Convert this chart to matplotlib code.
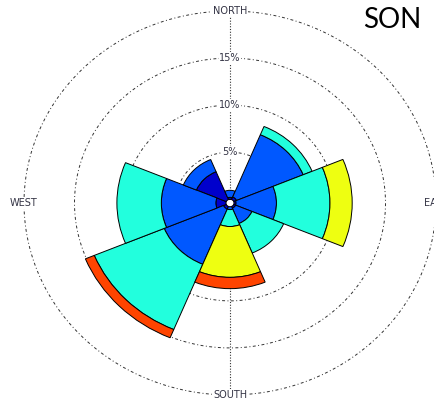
import matplotlib.pyplot as plt
import numpy as np

# direcoes (graus a partir do norte, sentido horario) e frequencias por classe de velocidade (%)
direcoes = [0, 45, 90, 135, 180, 225, 270, 315]
classe1 = [0.2, 0.3, 0.2, 0.2, 0.0, 0.3, 1.0, 3.2]
classe2 = [0.75, 7.15, 4.0, 1.75, 0.3, 6.35, 5.4, 1.4]
classe3 = [0.0, 0.95, 5.3, 3.4, 1.8, 7.5, 4.4, 0.0]
classe4 = [0.0, 0.0, 2.2, 0.0, 5.4, 0.0, 0.0, 0.0]
classe5 = [0.0, 0.0, 0.0, 0.0, 1.2, 0.95, 0.0, 0.0]
cores = ['#0000CC', '#0058FF', '#22FFDD', '#EEFF11', '#FF4400']

aneis = [5, 10, 15, 20]
rotulos_aneis = ['5%', '10%', '15%']
pontos = ['NORTH', 'EAST', 'SOUTH', 'WEST']

fig = plt.figure(figsize=(4.34, 4.0), dpi=100)
ax = fig.add_axes([24/434, 5/400, 412/434, 384/400], projection='polar')
ax.set_aspect('auto')
ax.set_theta_zero_location('N')
ax.set_theta_direction(-1)
ax.set_rorigin(-0.4)
ax.set_ylim(0, 20)

theta = np.deg2rad(direcoes)
largura = np.pi / 4
base = np.zeros(len(direcoes))
for valores, cor in zip([classe1, classe2, classe3, classe4, classe5], cores):
    v = np.array(valores)
    m = v > 0
    ax.bar(theta[m], v[m], width=largura, bottom=base[m], color=cor,
           edgecolor='black', linewidth=0.7, zorder=3)
    base = base + v

# grade: circulos tracejados e linha norte-sul
t = np.linspace(0, 2*np.pi, 400)
for r in aneis:
    ax.plot(t, np.full_like(t, r), color='#333333', lw=0.7,
            linestyle=(0, (3, 2.5, 1, 2.5)), zorder=1, clip_on=False)
ax.plot([0, 0], [0, 20], color='#333333', lw=0.8, linestyle=(0, (1, 1.5)), zorder=1)
ax.plot([np.pi, np.pi], [0, 20], color='#333333', lw=0.8, linestyle=(0, (1, 1.5)), zorder=1)

for r, rot in zip(aneis, rotulos_aneis):
    ax.text(0, r, rot, ha='center', va='center', fontsize=7, color='#333344',
            bbox=dict(facecolor='white', edgecolor='none', pad=0.5), zorder=2)
for ang, nome in zip([0, 90, 180, 270], pontos):
    ax.text(np.deg2rad(ang), 20, nome, ha='center', va='center', fontsize=7,
            color='#333344', bbox=dict(facecolor='white', edgecolor='none', pad=0.8),
            zorder=2, clip_on=False)

ax.grid(False)
ax.set_xticks([])
ax.set_yticks([])
ax.spines['polar'].set_visible(False)

fig.text(392/434, 1 - 20/400, 'SON', ha='center', va='center', fontsize=20,
         family='Lato', color='black')

fig.savefig('out.png', dpi=100)
